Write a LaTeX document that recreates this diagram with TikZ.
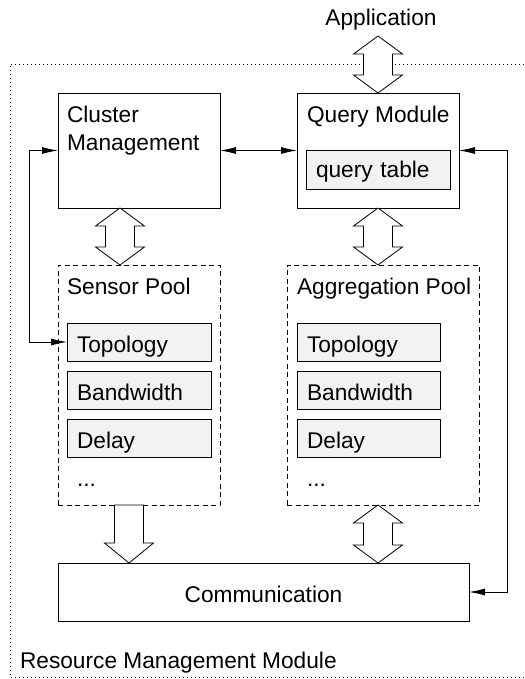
\documentclass[tikz,border=0pt]{standalone}
\usepackage{fontspec}
\setmainfont{Liberation Sans}
\usetikzlibrary{calc,arrows.meta}
\definecolor{itemgray}{HTML}{F2F2F2}
\begin{document}
\begin{tikzpicture}[x=1pt,y=-1pt,
  every node/.style={font=\fontsize{22.7pt}{28pt}\selectfont, inner sep=0pt, outer sep=0pt},
  box/.style={draw, line width=0.9pt, rectangle},
  pool/.style={draw, line width=0.9pt, dash pattern=on 5pt off 3.5pt, rectangle},
  item/.style={draw, line width=0.9pt, fill=itemgray, minimum height=38pt, text height=20pt, text depth=0pt, align=left, inner xsep=10pt},
  txt/.style={anchor=base west},
  conn/.style={line width=0.9pt, {Latex[length=16pt,width=7pt]}-{Latex[length=16pt,width=7pt]}},
  dbl/.style={draw, fill=white, line width=0.8pt, to path={let \p1=(\tikztostart), \p2=(\tikztotarget) in
    (\x1,\y1) -- (\x1+24.5pt,\y1-18pt) -- (\x1+14.5pt,\y1-18pt) -- (\x1+14.5pt,\y2+18pt) -- (\x1+24.5pt,\y2+18pt) -- (\x1,\y2) -- (\x1-24.5pt,\y2+18pt) -- (\x1-14.5pt,\y2+18pt) -- (\x1-14.5pt,\y1-18pt) -- (\x1-24.5pt,\y1-18pt) -- cycle}},
  sgl/.style={draw, fill=white, line width=0.8pt, to path={let \p1=(\tikztostart), \p2=(\tikztotarget) in
    (\x1-14.5pt,\y1) -- (\x1-14.5pt,\y2+20pt) -- (\x1-24.5pt,\y2+20pt) -- (\x1,\y2) -- (\x1+24.5pt,\y2+20pt) -- (\x1+14.5pt,\y2+20pt) -- (\x1+14.5pt,\y1) -- cycle}}
]
\useasboundingbox (0,0) rectangle (524,679);

% outer dotted module
\draw[line width=0.9pt, dash pattern=on 1pt off 3pt] (524,64) -- (10,64) -- (10,677) -- (524,677);
\node[txt] (rmm) at (20,668) {Resource Management Module};

% application
\node[anchor=base] (app) at (381,26) {Application};

% main boxes
\node[box, minimum width=162pt, minimum height=115pt] (cm) at (139,150.5) {};
\node[txt] (cmt1) at (67,123) {Cluster};
\node[txt] (cmt2) at (67,151) {Management};

\node[box, minimum width=162pt, minimum height=115pt] (qm) at (378,150.5) {};
\node[txt] (qmt) at (307,123) {Query Module};
\node[item, minimum height=39pt, text width=124pt, text height=15pt] (qt) at (378,169.5) {query table};

% pools
\node[pool, minimum width=162pt, minimum height=240pt] (sp) at (139,385) {};
\node[txt] (spt) at (67,294) {Sensor Pool};
\node[item, text width=124pt] (st) at (139,342) {Topology};
\node[item, text width=124pt] (sb) at (139,390) {Bandwidth};
\node[item, text width=124pt] (sd) at (139,438) {Delay};
\node[txt] (sdots) at (77,486) {...};

\node[pool, minimum width=192pt, minimum height=240pt] (ap) at (383,385) {};
\node[txt] (apt) at (297,294) {Aggregation Pool};
\node[item, text width=123pt] (at) at (368.5,342) {Topology};
\node[item, text width=123pt] (ab) at (368.5,390) {Bandwidth};
\node[item, text width=123pt] (ad) at (368.5,438) {Delay};
\node[txt] (adots) at (307,486) {...};

% communication
\node[box, minimum width=411pt, minimum height=58pt, text height=20pt, text depth=0pt] (comm) at (263.5,592) {Communication};

% block arrows
\coordinate (a1) at (378,36);
\coordinate (a2) at (qm.north);
\draw[dbl] (a1) to (a2);

\coordinate (b1) at ([xshift=-19pt]cm.south);
\coordinate (b2) at (b1 |- sp.north);
\draw[dbl] (b1) to (b2);

\coordinate (c1) at (qm.south);
\coordinate (c2) at (c1 |- ap.north);
\draw[dbl] (c1) to (c2);

\coordinate (d1) at ([xshift=-10pt]sp.south);
\coordinate (d2) at (d1 |- comm.north);
\draw[sgl] (d1) to (d2);

\coordinate (e1) at (qm.south |- ap.south);
\coordinate (e2) at (e1 |- comm.north);
\draw[dbl] (e1) to (e2);

% line connectors
\draw[conn] (cm.east) -- (qm.west);
\draw[conn] (cm.west) -- ++(-29,0) |- (st.west);
\draw[conn] (qm.east) -- ++(48,0) |- (comm.east);
\end{tikzpicture}
\end{document}
